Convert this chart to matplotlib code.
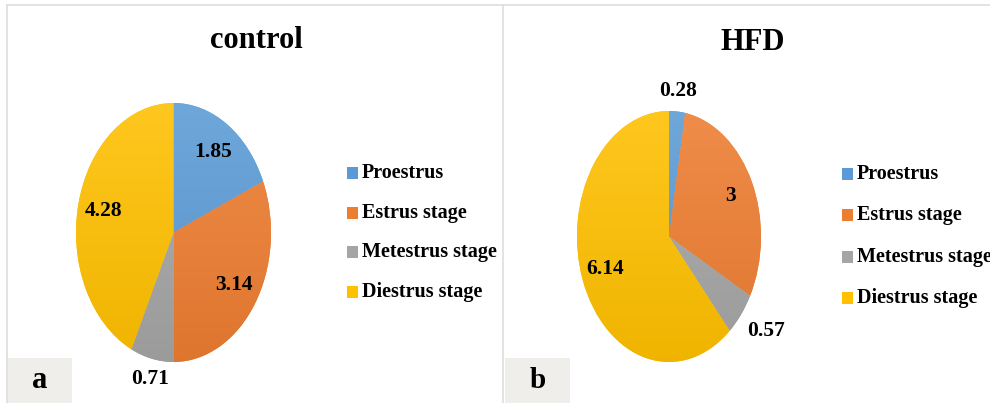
import numpy as np
import matplotlib
matplotlib.use("Agg")
import matplotlib.pyplot as plt
from matplotlib.colors import LinearSegmentedColormap, to_rgb
from matplotlib.patches import Rectangle
from matplotlib.lines import Line2D

# ---- data ----
categories = ["Proestrus", "Estrus stage", "Metestrus stage", "Diestrus stage"]
control_values = [1.85, 3.14, 0.71, 4.28]
hfd_values = [0.28, 3, 0.57, 6.14]
panel_titles = ["control", "HFD"]
panel_tags = ["a", "b"]

colors = ["#5B9BD5", "#ED7D31", "#A5A5A5", "#FFC000"]
FONT = "Liberation Serif"

W, H = 990, 403
fig = plt.figure(figsize=(W / 100, H / 100), dpi=100)
fig.patch.set_facecolor("white")


def fx(x):
    return x / W


def fy(y):
    return 1 - y / H


def shade(c, f):
    r = np.array(to_rgb(c))
    if f >= 0:
        return tuple(r + (1 - r) * f)
    return tuple(r * (1 + f))


# panel frames
frame_col = "#dedede"
fig.add_artist(Line2D([fx(7), fx(990)], [fy(5), fy(5)], color=frame_col, lw=1.2))
fig.add_artist(Line2D([fx(7), fx(7)], [fy(5), fy(403)], color=frame_col, lw=1.2))
fig.add_artist(Line2D([fx(503), fx(503)], [fy(5), fy(403)], color=frame_col, lw=1.2))

panels = [
    dict(values=control_values, box=(76, 103, 271, 362), title_xy=(256, 40),
         leg_x=347, leg_y0=173, leg_dy=39.7, tag_box=(7, 358, 72, 403), tag_size=22),
    dict(values=hfd_values, box=(577, 111, 761, 362), title_xy=(753, 43),
         leg_x=842, leg_y0=174, leg_dy=41.3, tag_box=(505, 358, 570, 403), tag_size=21),
]

grad = np.linspace(0, 1, 256).reshape(-1, 1)

for p, title, tag in zip(panels, panel_titles, panel_tags):
    x0, y0, x1, y1 = p["box"]
    ax = fig.add_axes([fx(x0), fy(y1), (x1 - x0) / W, (y1 - y0) / H])
    vals = p["values"]
    wedges, _ = ax.pie(vals, colors=colors, startangle=90, counterclock=False,
                       radius=1, wedgeprops=dict(linewidth=0))
    # soft vertical shading inside each slice
    for w, c in zip(wedges, colors):
        cmap = LinearSegmentedColormap.from_list("s", [shade(c, -0.06), shade(c, 0.12)])
        im = ax.imshow(grad, extent=(-1, 1, -1, 1), origin="lower", cmap=cmap,
                       aspect="auto", zorder=1.5, interpolation="bilinear")
        im.set_clip_path(w)
    ax.set_aspect("auto")
    ax.set_xlim(-1, 1)
    ax.set_ylim(-1, 1)
    ax.axis("off")

    # value labels: inside for large slices, outside for thin ones
    total = sum(vals)
    cum = 0.0
    for v in vals:
        mid = np.deg2rad((cum + v / 2) / total * 360)
        cum += v
        s, c = np.sin(mid), np.cos(mid)
        txt = f"{v:g}"
        if v / total > 0.08:
            ax.text(0.74 * s, 0.74 * c, txt, ha="center", va="center",
                    fontsize=15.5, fontweight="bold", family=FONT, zorder=5)
        else:
            ha = "left" if s > 0.3 else ("right" if s < -0.3 else "center")
            va = "bottom" if c > 0.3 else ("top" if c < -0.3 else "center")
            ax.text(1.08 * s, 1.08 * c, txt, ha=ha, va=va,
                    fontsize=15.5, fontweight="bold", family=FONT, zorder=5)

    # title
    tx, ty = p["title_xy"]
    fig.text(fx(tx), fy(ty), title, ha="center", va="center", fontsize=22,
             fontweight="bold", family=FONT)

    # legend
    for i, (name, col) in enumerate(zip(categories, colors)):
        yc = p["leg_y0"] + i * p["leg_dy"]
        lx = p["leg_x"]
        fig.add_artist(Rectangle((fx(lx), fy(yc + 6)), 11 / W, 12 / H,
                                 facecolor=col, edgecolor="none",
                                 transform=fig.transFigure))
        fig.text(fx(lx + 15), fy(yc), name, ha="left", va="center",
                 fontsize=14.5, fontweight="bold", family=FONT)

    # panel tag
    bx0, by0, bx1, by1 = p["tag_box"]
    fig.add_artist(Rectangle((fx(bx0), fy(by1)), (bx1 - bx0) / W, (by1 - by0) / H,
                             facecolor="#f0eeea", edgecolor="none",
                             transform=fig.transFigure))
    fig.text(fx((bx0 + bx1) / 2), fy(380), tag, ha="center", va="center",
             fontsize=p["tag_size"], fontweight="bold", family=FONT)

fig.savefig("out.png", dpi=100, facecolor="white")
